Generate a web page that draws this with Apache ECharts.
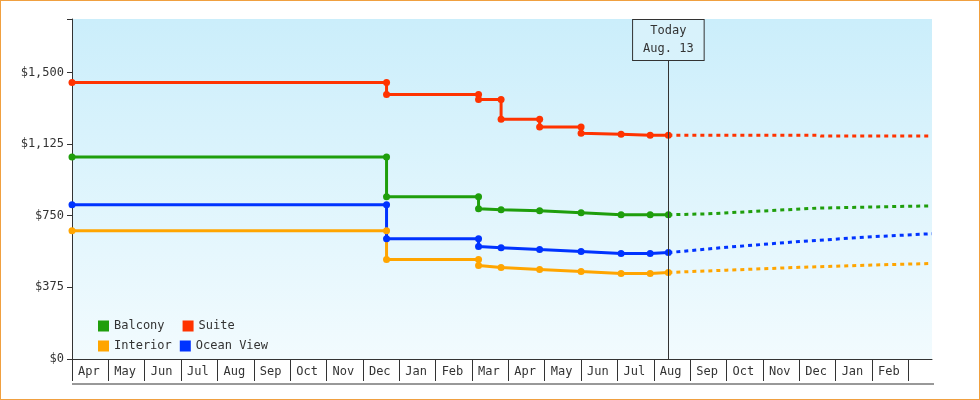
<!DOCTYPE html><html><head><meta charset="utf-8">
<script src="https://cdn.jsdelivr.net/npm/echarts@6/dist/echarts.min.js"></script>
<style>html,body{margin:0;padding:0;background:#fff}#c{width:978px;height:398px;border:1px solid #f0a040}</style></head>
<body><div id="c"></div><script>
const monthLabels=['Apr','May','Jun','Jul','Aug','Sep','Oct','Nov','Dec','Jan','Feb','Mar','Apr','May','Jun','Jul','Aug','Sep','Oct','Nov','Dec','Jan','Feb'];
const yTicks=[0,375,750,1125,1500];
const todayX=16.4;
// [monthIndex, price]
const suite=[[0,1448],[8.65,1448],[8.65,1385],[11.18,1385],[11.18,1359],[11.8,1359],[11.8,1255],[12.86,1255],[12.86,1214],[14.0,1214],[14.0,1182],[15.1,1177],[15.9,1172],[16.4,1172]];
const balcony=[[0,1057],[8.65,1057],[8.65,849],[11.18,849],[11.18,786],[11.8,781],[12.86,776],[14.0,766],[15.1,755],[15.9,755],[16.4,755]];
const ocean=[[0,807],[8.65,807],[8.65,630],[11.18,630],[11.18,589],[11.8,583],[12.86,573],[14.0,563],[15.1,552],[15.9,552],[16.4,557]];
const interior=[[0,672],[8.65,672],[8.65,521],[11.18,521],[11.18,490],[11.8,479],[12.86,469],[14.0,458],[15.1,448],[15.9,448],[16.4,453]];
const suiteF=[[16.4,1172],[20.5,1172],[20.6,1167],[23.65,1167]];
const balconyF=[[16.4,755],[17.5,760],[19,775],[20.5,790],[23.65,802]];
const oceanF=[[16.4,557],[18,585],[20,615],[22,640],[23.65,656]];
const interiorF=[[16.4,453],[18,465],[20,480],[22,492],[23.65,500]];
const colors={Balcony:'#1f9e0c',Suite:'#ff3300',Interior:'#ffa500','Ocean View':'#0033ff'};
const font='DejaVu Sans Mono';
function solid(name,data){return {name,type:'line',data,color:colors[name],symbol:'circle',symbolSize:7,lineStyle:{width:3},z:3};}
function dashed(name,data){return {name,type:'line',data,color:colors[name],symbol:'none',lineStyle:{width:3,type:[4,4]},z:2};}
const chart=echarts.init(document.getElementById('c'));
chart.setOption({
 animation:false,textStyle:{fontFamily:font},
 grid:{left:71,right:47,top:18,bottom:40,show:true,borderWidth:0,
  backgroundColor:new echarts.graphic.LinearGradient(0,0,0,1,[{offset:0,color:'#cbeefb'},{offset:1,color:'#f2fbfe'}])},
 legend:[
  {data:['Balcony','Suite'],left:92,top:314,icon:'rect',itemWidth:11,itemHeight:11,itemGap:18,textStyle:{fontFamily:font,fontSize:12,color:'#333'}},
  {data:['Interior','Ocean View'],left:92,top:334,icon:'rect',itemWidth:11,itemHeight:11,itemGap:8,textStyle:{fontFamily:font,fontSize:12,color:'#333'}}],
 xAxis:{type:'value',min:0,max:23.65,interval:1,
  axisLine:{show:true,lineStyle:{color:'#333'}},
  axisTick:{show:true,length:22,lineStyle:{color:'#333'}},
  splitLine:{show:false},
  axisLabel:{showMaxLabel:false,align:'left',padding:[0,0,0,6],margin:7,fontFamily:font,fontSize:12,color:'#333',
   formatter:v=>monthLabels[Math.round(v)]||''}},
 yAxis:{type:'value',min:0,max:1780,interval:375,
  axisLine:{show:true,lineStyle:{color:'#333'}},axisTick:{show:true,length:5,lineStyle:{color:'#333'}},
  splitLine:{show:false},showMaxLabel:false,
  axisLabel:{fontFamily:font,fontSize:12,color:'#333',formatter:v=>yTicks.includes(v)?'$'+v.toLocaleString('en-US'):''}},
 graphic:[{type:'line',shape:{x1:71,y1:383,x2:933,y2:383},style:{stroke:'#333',lineWidth:1}},
   {type:'rect',shape:{x:71,y:361,width:862,height:22},style:{fill:'#fff'},z:-1}],
 series:[
  solid('Balcony',balcony),solid('Suite',suite),solid('Interior',interior),solid('Ocean View',ocean),
  dashed('Balcony',balconyF),dashed('Suite',suiteF),dashed('Interior',interiorF),dashed('Ocean View',oceanF),
  {type:'line',data:[],markLine:{silent:true,symbol:'none',label:{show:false},lineStyle:{color:'#333',width:1,type:'solid'},data:[{xAxis:todayX}]},
   markPoint:{symbol:'rect',symbolSize:1,itemStyle:{color:'transparent'},
    label:{show:true,formatter:'Today\nAug. 13',fontFamily:font,fontSize:12,color:'#333',lineHeight:18,backgroundColor:'#d8f2fb',borderColor:'#333',borderWidth:1,padding:[3,10,1,10]},
    data:[{coord:[todayX,1670]}]}}
 ]
});
</script></body></html>
